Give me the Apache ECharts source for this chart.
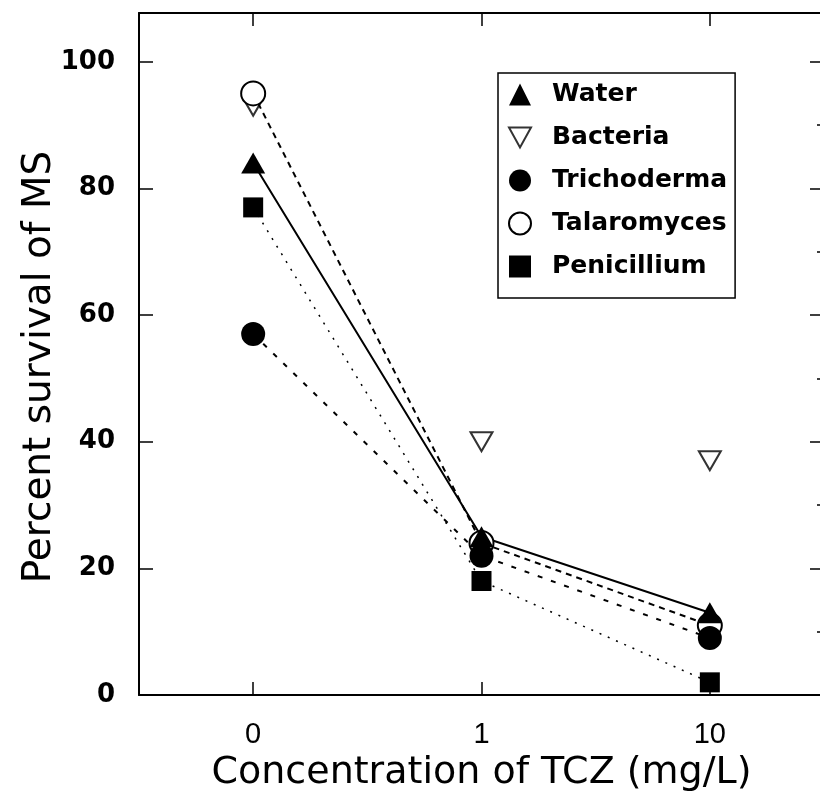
<!DOCTYPE html>
<html>
<head>
<meta charset="utf-8">
<script src="https://cdn.jsdelivr.net/npm/echarts@6/dist/echarts.min.js"></script>
<style>html,body{margin:0;padding:0;background:#fff;overflow:hidden}#c{width:820px;height:799px}</style>
</head>
<body>
<div id="c"></div>
<script>
const categories = ['0', '1', '10'];
const water = [84, 25, 13];
const bacteria = [93, 40, 37];
const trichoderma = [57, 22, 9];
const talaromyces = [95, 24, 11];
const penicillium = [77, 18, 2];
const yTicks = [0, 20, 40, 60, 80, 100];

const downTri = 'path://M0,0 L10,0 L5,9 Z';
const font = 'DejaVu Sans';

const chart = echarts.init(document.getElementById('c'), null, {renderer: 'canvas'});
const axisLine = {show: true, onZero: false, lineStyle: {color: '#000', width: 2}};
const yBase = {
  type: 'value', min: 0, max: 107.7, interval: 20,
  splitLine: {show: false},
  axisLine: axisLine
};
chart.setOption({
  backgroundColor: '#fff',
  animation: false,
  grid: {left: 139, top: 13, width: 685, height: 682, containLabel: false, outerBoundsMode: 'none'},
  legend: {
    orient: 'vertical', left: 498, top: 73,
    backgroundColor: '#fff', borderColor: '#000', borderWidth: 1.5,
    padding: [9, 8, 19, 10],
    itemGap: 18, itemWidth: 22, itemHeight: 22,
    textStyle: {fontFamily: font, fontWeight: 'bold', fontSize: 25, color: '#000', padding: [0, 0, 0, 16]},
    data: [
      {name: 'Water', icon: 'triangle'},
      {name: 'Bacteria', icon: downTri},
      {name: 'Trichoderma', icon: 'circle'},
      {name: 'Talaromyces', icon: 'circle'},
      {name: 'Penicillium', icon: 'rect'}
    ]
  },
  xAxis: [{
    type: 'category', data: categories, position: 'bottom',
    axisLine: axisLine,
    axisTick: {show: true, inside: true, alignWithLabel: true, length: 13, lineStyle: {color: '#000', width: 1.5}},
    axisLabel: {color: '#000', fontFamily: '"Liberation Sans Narrow", "Liberation Sans"', fontSize: 29, margin: 25},
    name: 'Concentration of TCZ (mg/L)', nameLocation: 'middle', nameGap: 59, nameMoveOverlap: false,
    nameTextStyle: {color: '#000', fontFamily: font, fontSize: 38}
  }, {
    type: 'category', data: categories, position: 'top',
    axisLine: axisLine,
    axisTick: {show: true, inside: true, alignWithLabel: true, length: 13, lineStyle: {color: '#000', width: 1.5}},
    axisLabel: {show: false}
  }],
  yAxis: [Object.assign({}, yBase, {
    position: 'left',
    axisTick: {show: true, inside: true, length: 14, lineStyle: {color: '#000', width: 1.5}},
    axisLabel: {color: '#000', fontFamily: font, fontWeight: 'bold', fontSize: 26, margin: 24,
      formatter: v => yTicks.includes(v) ? String(v) : ''},
    name: 'Percent survival of MS', nameLocation: 'middle', nameGap: 80, nameMoveOverlap: false,
    nameTextStyle: {color: '#000', fontFamily: font, fontSize: 39, padding: [0, 26, 0, 0]}
  }), Object.assign({}, yBase, {
    position: 'right',
    axisTick: {show: true, inside: true, length: 14, lineStyle: {color: '#000', width: 1.5}},
    minorTick: {show: true, splitNumber: 2, length: 7, lineStyle: {color: '#000', width: 1.5}},
    axisLabel: {show: false}
  })],
  series: [
    {name: 'Bacteria', type: 'scatter', data: bacteria, symbol: downTri, symbolSize: [22, 19],
      itemStyle: {color: '#fff', borderColor: '#000', borderWidth: 2}},
    {name: 'Talaromyces', type: 'line', data: talaromyces, symbol: 'circle', symbolSize: 24,
      itemStyle: {color: '#fff', borderColor: '#000', borderWidth: 2},
      lineStyle: {color: '#000', width: 2, type: [6, 5]}},
    {name: 'Penicillium', type: 'line', data: penicillium, symbol: 'rect', symbolSize: 20,
      itemStyle: {color: '#000'},
      lineStyle: {color: '#000', width: 1.5, type: [2, 7]}},
    {name: 'Trichoderma', type: 'line', data: trichoderma, symbol: 'circle', symbolSize: 24,
      itemStyle: {color: '#000'},
      lineStyle: {color: '#000', width: 2, type: [5, 9]}},
    {name: 'Water', type: 'line', data: water, symbol: 'triangle', symbolSize: [24, 21],
      itemStyle: {color: '#000'},
      lineStyle: {color: '#000', width: 2}}
  ]
});
</script>
</body>
</html>
